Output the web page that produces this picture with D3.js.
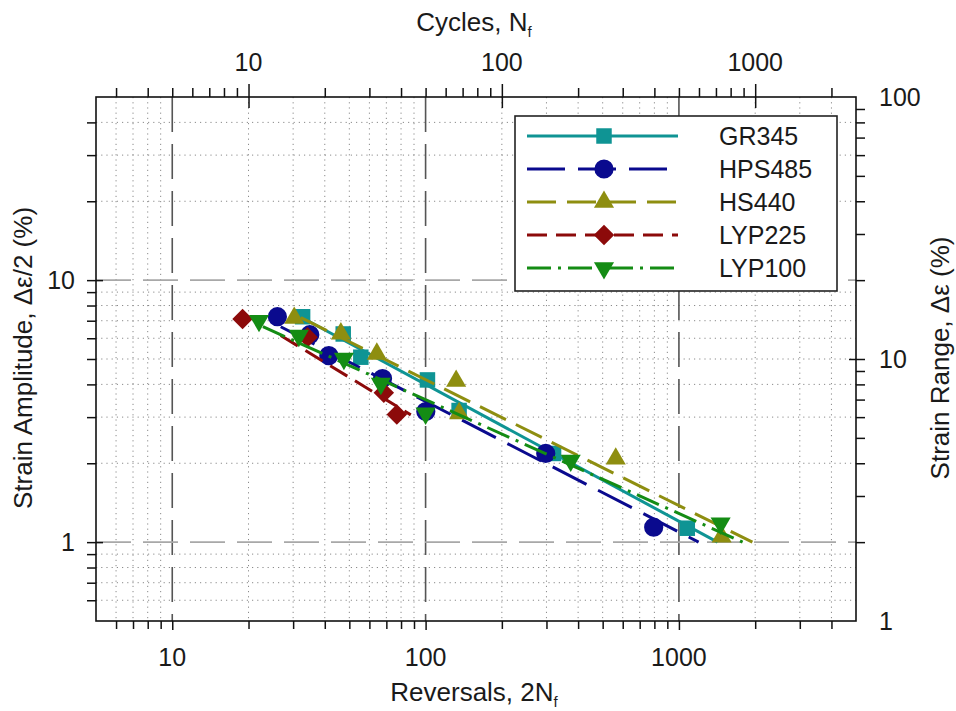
<!DOCTYPE html>
<html lang="en">
<head>
<meta charset="UTF-8">
<title>Strain-life curves</title>
<script src="https://d3js.org/d3.v7.min.js"></script>
<style>
    html, body { margin: 0; padding: 0; background: #fff; overflow: hidden; }
    svg text { font-family: "Liberation Sans", Arial, Helvetica, sans-serif; fill: #1a1a1a; }
</style>
</head>
<body>
<svg id="chart" width="956" height="711"></svg>
<script>
// series, in legend / drawing order
const seriesNames = ["GR345", "HPS485", "HS440", "LYP225", "LYP100"];

// test points: reversals 2Nf and strain amplitude (%)
const gr345Rev  = [32.7, 47.3, 55.5, 101.7, 135.6, 320, 1079];
const gr345Amp  = [7.25, 6.23, 5.08, 4.16, 3.18, 2.18, 1.13];
const hps485Rev = [26.0, 34.9, 41.5, 67.6, 100.2, 298, 795];
const hps485Amp = [7.25, 6.19, 5.15, 4.21, 3.15, 2.18, 1.14];
const hs440Rev  = [30.3, 46.3, 64.2, 132, 135.6, 563, 1474];
const hs440Amp  = [7.17, 6.25, 5.23, 4.12, 3.10, 2.08, 1.05];
const lyp225Rev = [18.95, 34.2, 68.4, 77.0];
const lyp225Amp = [7.10, 6.05, 3.72, 3.07];
const lyp100Rev = [22.0, 31.6, 47.6, 66.6, 100, 374, 1461];
const lyp100Amp = [7.00, 6.14, 5.02, 4.03, 3.10, 2.05, 1.18];

// fitted lines: [start, end]
const gr345FitRev  = [33.7, 1421],  gr345FitAmp  = [7.06, 1.0];
const hps485FitRev = [26.8, 1196],  hps485FitAmp = [6.64, 1.0];
const hs440FitRev  = [32.2, 1950],  hs440FitAmp  = [7.19, 1.0];
const lyp225FitRev = [26.8, 87.4],  lyp225FitAmp = [6.15, 3.06];
const lyp100FitRev = [22.8, 1784],  lyp100FitAmp = [6.64, 1.0];

// axis tick labels
const revLabels = [10, 100, 1000];
const cycLabels = [10, 100, 1000];
const ampLabels = [1, 10];
const rangeLabels = [1, 10, 100];

const colors = ["#0f9494", "#0a0a8e", "#8e8e10", "#8c0a0a", "#148c14"];
const dashes = [null, "38,13", "29,11", "20,9", "24,7,3,7"];

const svg = d3.select("#chart");
const L = 96, R = 856, T = 97, B = 621;

const x = d3.scaleLog().domain([5, 5000]).range([L, R]);
const y = d3.scaleLog().domain([0.5, 50]).range([B, T]);
const xTop = d3.scaleLog().domain([2.5, 2500]).range([L, R]);   // cycles = reversals / 2
const yRight = d3.scaleLog().domain([1, 100]).range([B, T]);    // range = 2 * amplitude

const xMinor = x.ticks().filter(d => !revLabels.includes(d) && d > 5 && d < 5000);
const yMinor = y.ticks().filter(d => !ampLabels.includes(d) && d > 0.5 && d < 50);

// grid
const grid = svg.append("g");
grid.selectAll(".gx").data(xMinor).enter().append("line")
    .attr("x1", d => x(d)).attr("x2", d => x(d)).attr("y1", T).attr("y2", B)
    .attr("stroke", "#8a8a8a").attr("stroke-width", 1).attr("stroke-dasharray", "1.2,4");
grid.selectAll(".gy").data(yMinor).enter().append("line")
    .attr("y1", d => y(d)).attr("y2", d => y(d)).attr("x1", L).attr("x2", R)
    .attr("stroke", "#8a8a8a").attr("stroke-width", 1).attr("stroke-dasharray", "1.2,4");
grid.selectAll(".gxm").data(revLabels).enter().append("line")
    .attr("x1", d => x(d)).attr("x2", d => x(d)).attr("y1", T).attr("y2", B)
    .attr("stroke", "#555").attr("stroke-width", 1.6).attr("stroke-dasharray", "35,12");
grid.selectAll(".gym").data(ampLabels).enter().append("line")
    .attr("y1", d => y(d)).attr("y2", d => y(d)).attr("x1", L).attr("x2", R)
    .attr("stroke", "#a8a8a8").attr("stroke-width", 1.6).attr("stroke-dasharray", "35,12");

// axes (ticks only, labels drawn below)
function ticks(axis, g) {
    g.call(axis);
    g.select(".domain").remove();
    g.selectAll("line").attr("stroke", "#111").attr("stroke-width", 1.5);
    g.selectAll("text").remove();
}
const topMinor = xTop.ticks().filter(d => !cycLabels.includes(d) && d > 2.5 && d < 2500);
const rightMinor = yRight.ticks().filter(d => !rangeLabels.includes(d));

ticks(d3.axisBottom(x).tickValues(xMinor).tickSize(8), svg.append("g").attr("transform", `translate(0,${B})`));
ticks(d3.axisBottom(x).tickValues(revLabels).tickSize(9), svg.append("g").attr("transform", `translate(0,${B})`));
ticks(d3.axisTop(xTop).tickValues(topMinor).tickSize(9), svg.append("g").attr("transform", `translate(0,${T})`));
ticks(d3.axisTop(xTop).tickValues(cycLabels).tickSize(13), svg.append("g").attr("transform", `translate(0,${T})`));
ticks(d3.axisTop(xTop).tickValues(cycLabels).tickSize(-11), svg.append("g").attr("transform", `translate(0,${T})`));
ticks(d3.axisLeft(y).tickValues(yMinor).tickSize(9), svg.append("g").attr("transform", `translate(${L},0)`));
ticks(d3.axisLeft(y).tickValues(ampLabels).tickSize(9), svg.append("g").attr("transform", `translate(${L},0)`));
ticks(d3.axisLeft(y).tickValues(ampLabels).tickSize(-7), svg.append("g").attr("transform", `translate(${L},0)`));
ticks(d3.axisRight(yRight).tickValues(rightMinor).tickSize(9), svg.append("g").attr("transform", `translate(${R},0)`));
ticks(d3.axisRight(yRight).tickValues([10]).tickSize(9), svg.append("g").attr("transform", `translate(${R},0)`));
ticks(d3.axisRight(yRight).tickValues([10]).tickSize(-7), svg.append("g").attr("transform", `translate(${R},0)`));

// series
const series = [
    {rev: gr345Rev, amp: gr345Amp, fr: gr345FitRev, fa: gr345FitAmp},
    {rev: hps485Rev, amp: hps485Amp, fr: hps485FitRev, fa: hps485FitAmp},
    {rev: hs440Rev, amp: hs440Amp, fr: hs440FitRev, fa: hs440FitAmp},
    {rev: lyp225Rev, amp: lyp225Amp, fr: lyp225FitRev, fa: lyp225FitAmp},
    {rev: lyp100Rev, amp: lyp100Amp, fr: lyp100FitRev, fa: lyp100FitAmp}
];

function marker(sel, i) {
    const c = colors[i];
    if (i === 0) sel.attr("d", d3.symbol().type(d3.symbolSquare).size(240)());
    else if (i === 1) sel.attr("d", d3.symbol().type(d3.symbolCircle).size(290)());
    else if (i === 2) sel.attr("d", d3.symbol().type(d3.symbolTriangle).size(175)());
    else if (i === 3) sel.attr("d", d3.symbol().type(d3.symbolSquare).size(210)());
    else sel.attr("d", d3.symbol().type(d3.symbolTriangle).size(175)());
    return sel.attr("fill", c);
}
function markerRot(i) { return i === 3 ? 45 : (i === 4 ? 180 : 0); }

const line = d3.line().x(d => x(d[0])).y(d => y(d[1]));
const plot = svg.append("g");
series.forEach((s, i) => {
    plot.append("path")
        .datum(s.fr.map((r, k) => [r, s.fa[k]]))
        .attr("d", line)
        .attr("fill", "none")
        .attr("stroke", colors[i])
        .attr("stroke-width", 3)
        .attr("stroke-dasharray", dashes[i]);
    plot.selectAll(".m" + i)
        .data(s.rev.map((r, k) => [r, s.amp[k]]))
        .enter().append("path")
        .attr("class", "m" + i)
        .attr("transform", d => `translate(${x(d[0])},${y(d[1])}) rotate(${markerRot(i)})`)
        .call(marker, i);
});

// frame
svg.append("rect").attr("x", L).attr("y", T).attr("width", R - L).attr("height", B - T)
    .attr("fill", "none").attr("stroke", "#111").attr("stroke-width", 1.6);

// tick labels
svg.selectAll(".bl").data(revLabels).enter().append("text")
    .attr("x", d => x(d)).attr("y", 666).attr("text-anchor", "middle")
    .attr("font-size", 25).text(d => d);
svg.selectAll(".tl").data(cycLabels).enter().append("text")
    .attr("x", d => xTop(d)).attr("y", 71).attr("text-anchor", "middle")
    .attr("font-size", 25).text(d => d);
svg.selectAll(".ll").data(ampLabels).enter().append("text")
    .attr("x", 75).attr("y", d => y(d) + 9).attr("text-anchor", "end")
    .attr("font-size", 25).text(d => d);
svg.selectAll(".rl").data(rangeLabels).enter().append("text")
    .attr("x", 879).attr("y", d => yRight(d) + 9).attr("text-anchor", "start")
    .attr("font-size", 25).text(d => d);

// axis titles
function title(tx, ty, rot, main, sub) {
    const t = svg.append("text").attr("text-anchor", "middle").attr("font-size", 26)
        .attr("transform", `translate(${tx},${ty}) rotate(${rot})`);
    t.append("tspan").text(main);
    if (sub) {
        t.append("tspan").attr("font-size", 15).attr("dy", 6).text(sub);
    }
    return t;
}
title(474, 31, 0, "Cycles, N", "f");
title(474, 701, 0, "Reversals, 2N", "f");
title(32, 358, -90, "Strain Amplitude, \u0394\u03b5/2 (%)");
title(949, 358, -90, "Strain Range, \u0394\u03b5 (%)");

// legend
const lg = svg.append("g");
lg.append("rect").attr("x", 515).attr("y", 116).attr("width", 322).attr("height", 175)
    .attr("fill", "#fff").attr("stroke", "#222").attr("stroke-width", 1.6);
seriesNames.forEach((name, i) => {
    const ly = 136 + i * 33;
    lg.append("line").attr("x1", 527).attr("x2", 678).attr("y1", ly).attr("y2", ly)
        .attr("stroke", colors[i]).attr("stroke-width", 3).attr("stroke-dasharray", dashes[i]);
    lg.append("path").attr("transform", `translate(604,${ly}) rotate(${markerRot(i)})`).call(marker, i);
    lg.append("text").attr("x", 719).attr("y", ly + 9).attr("font-size", 25).text(name);
});
</script>
</body>
</html>
